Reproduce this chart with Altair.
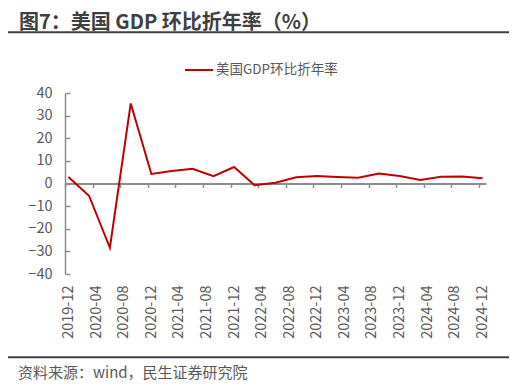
import altair as alt
import pandas as pd

dates = ["2019-12-01", "2020-03-01", "2020-06-01", "2020-09-01", "2020-12-01",
         "2021-03-01", "2021-06-01", "2021-09-01", "2021-12-01", "2022-03-01",
         "2022-06-01", "2022-09-01", "2022-12-01", "2023-03-01", "2023-06-01",
         "2023-09-01", "2023-12-01", "2024-03-01", "2024-06-01", "2024-09-01",
         "2024-12-01"]
values = [2.9, -5.4, -28.4, 35.4, 4.2, 5.5, 6.5, 3.2, 7.3, -0.8, 0.3, 2.8, 3.3,
          2.9, 2.5, 4.4, 3.3, 1.6, 3.0, 3.1, 2.3]
series_name = "美国GDP环比折年率"
tick_months = [(2019, 12), (2020, 4), (2020, 8), (2020, 12), (2021, 4), (2021, 8),
               (2021, 12), (2022, 4), (2022, 8), (2022, 12), (2023, 4), (2023, 8),
               (2023, 12), (2024, 4), (2024, 8), (2024, 12)]
y_ticks = [40, 30, 20, 10, 0, -10, -20, -30, -40]

title_text = "图7：美国 GDP 环比折年率（%）"
source_text = "资料来源：wind，民生证券研究院"

df = pd.DataFrame({"date": dates, "value": values, "series": [series_name] * len(dates)})

FONT = "Noto Sans CJK SC"
GREY = "#595959"
AXIS = "#8c8c8c"
W, H = 421, 181

tick_vals = [alt.DateTime(year=y, month=m, date=1, utc=True) for y, m in tick_months]
xscale = alt.Scale(type="utc", domain=[alt.DateTime(year=2019, month=11, date=16, utc=True),
                                       alt.DateTime(year=2024, month=12, date=16, utc=True)])
yscale = alt.Scale(domain=[-40, 40], nice=False, zero=False)

axis_x_labels = alt.Axis(values=tick_vals, format="%Y-%m", labelAngle=-90, ticks=False,
                         domain=False, grid=False, labelPadding=11, labelFontSize=14.5,
                         labelColor=GREY, labelFont=FONT, title=None, orient="bottom",
                         labelOverlap=False)
axis_x_zero = alt.Axis(values=tick_vals, labels=False, ticks=True, tickSize=4,
                       tickOffset=-3.45, tickColor=AXIS, tickWidth=1.5, domain=True,
                       domainColor=AXIS, domainWidth=1.8, grid=False, title=None,
                       orient="bottom", offset=-H / 2)
axis_y_left = alt.Axis(values=y_ticks, ticks=False, domain=True, domainColor=AXIS,
                       domainWidth=1.5, grid=False, labelPadding=13, labelFontSize=14.5,
                       labelColor=GREY, labelFont=FONT, title=None, orient="left")
axis_y_ticks = alt.Axis(values=y_ticks, ticks=True, tickSize=5, tickColor=AXIS,
                        tickWidth=1.5, labels=False, domain=False, grid=False,
                        title=None, orient="right", offset=-W)

base = alt.Chart(df)

line = base.mark_line(strokeWidth=2).encode(
    x=alt.X("date:T", scale=xscale, axis=axis_x_labels),
    y=alt.Y("value:Q", scale=yscale, axis=axis_y_left),
    color=alt.Color("series:N",
                    scale=alt.Scale(domain=[series_name], range=["#C00000"]),
                    legend=alt.Legend(orient="none", legendX=119, legendY=-38,
                                      title=None, symbolType="stroke", symbolSize=784,
                                      symbolStrokeWidth=2, labelFontSize=13.5,
                                      labelColor=GREY, labelFont=FONT, labelOffset=2)),
)

axes_layer = base.mark_line(opacity=0).encode(
    x=alt.X("date:T", scale=xscale, axis=axis_x_zero),
    y=alt.Y("value:Q", scale=yscale, axis=axis_y_ticks),
)

title = alt.Chart(pd.DataFrame({"t": [title_text]})).mark_text(
    align="left", baseline="alphabetic", font=FONT, fontSize=20, fontWeight="bold",
    color="#404040"
).encode(text="t:N", x=alt.value(-46), y=alt.value(-64))

top_rule = alt.Chart(pd.DataFrame({"a": [0]})).mark_rule(
    color="#404040", strokeWidth=2
).encode(x=alt.value(-57), x2=alt.value(447), y=alt.value(-60.7))

bottom_rule = alt.Chart(pd.DataFrame({"a": [0]})).mark_rule(
    color="#404040", strokeWidth=2
).encode(x=alt.value(-57), x2=alt.value(447), y=alt.value(264.3))

source = alt.Chart(pd.DataFrame({"t": [source_text]})).mark_text(
    align="left", baseline="middle", font=FONT, fontSize=15, color=GREY
).encode(text="t:N", x=alt.value(-47), y=alt.value(280.3))

chart = alt.layer(axes_layer, line, title, top_rule, bottom_rule, source).resolve_axis(
    x="independent", y="independent"
).properties(
    width=W, height=H,
    autosize=alt.AutoSizeParams(type="none"),
    padding={"left": 57, "top": 85, "right": 23, "bottom": 108},
).configure_view(stroke=None)

chart.save("out.html", embed_options={"renderer": "svg", "actions": False})
